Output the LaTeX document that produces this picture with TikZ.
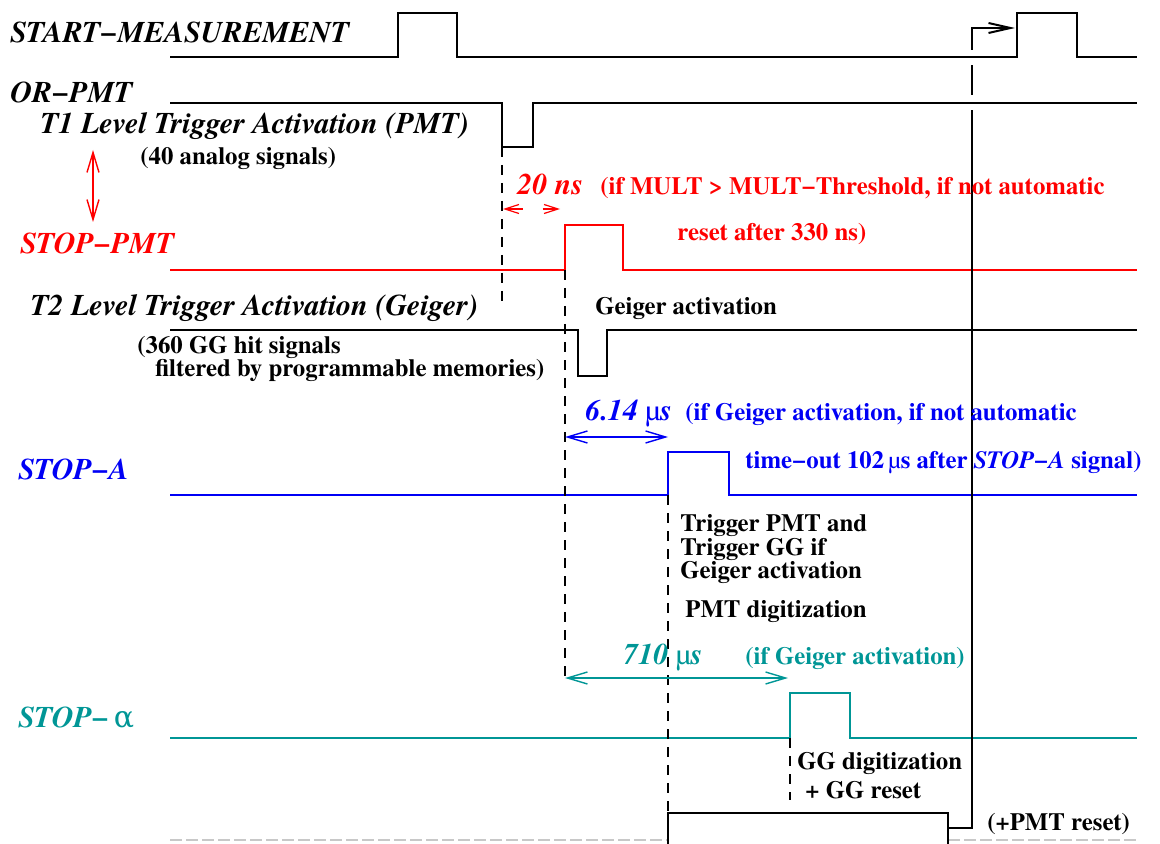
\documentclass[tikz,border=0pt]{standalone}
\usepackage{fontspec}
\setmainfont{texgyretermes}[Extension=.otf, UprightFont=*-regular, BoldFont=*-bold, ItalicFont=*-italic, BoldItalicFont=*-bolditalic]
\newfontfamily\greekf{DejaVu Serif}
\usetikzlibrary{arrows.meta}
\definecolor{sred}{RGB}{255,0,0}
\definecolor{sblue}{RGB}{0,0,245}
\definecolor{steal}{RGB}{0,150,150}
\definecolor{lgray}{RGB}{200,200,200}
\newcommand\muu{{\mdseries\upshape µ}}
\begin{document}
\begin{tikzpicture}[x=0.5pt,y=-0.5pt,
  sig/.style={line width=1.45pt, line join=miter},
  guide/.style={line width=0.6pt, dash pattern=on 5pt off 4pt},
  lab/.style={anchor=west, inner sep=0pt, text height=9.9pt, text depth=0pt, font=\fontsize{15}{18}\selectfont\bfseries\itshape},
  txt/.style={anchor=west, inner sep=0pt, text height=8.2pt, text depth=0pt, font=\fontsize{12.4}{15}\selectfont\bfseries},
  dimarrow/.style={line width=0.7pt, {Straight Barb[length=10pt,width=6pt]}-{Straight Barb[length=10pt,width=6pt]}},
]
\useasboundingbox (0,0) rectangle (1160,844);

% ---- signal traces ----
\draw[sig] (170,57) -- (398,57) -- (398,13) -- (457,13) -- (457,57) -- (1017,57) -- (1017,13) -- (1077,13) -- (1077,57) -- (1137,57);
\draw[sig] (170,103) -- (502,103) -- (502,147) -- (533,147) -- (533,103) -- (1137,103);
\draw[sig,sred] (170,270) -- (565,270) -- (565,225) -- (623,225) -- (623,270) -- (1137,270);
\draw[sig] (170,330) -- (578,330) -- (578,376) -- (607,376) -- (607,330) -- (1137,330);
\draw[sig,sblue] (170,495) -- (668,495) -- (668,452) -- (729,452) -- (729,495) -- (1137,495);
\draw[sig,steal] (170,738) -- (790,738) -- (790,693) -- (850,693) -- (850,738) -- (1137,738);
\draw[lgray,line width=0.8pt,dash pattern=on 6pt off 2pt] (170,840) -- (668,840) (948,840) -- (1137,840);
\draw[line width=0.7pt] (668,844) -- (668,813) -- (948,813) -- (948,844);

% ---- guide lines ----
\draw[guide] (502,147) -- (502,303);
\draw[guide] (565,270) -- (565,680);
\draw[guide] (668,495) -- (668,813);
\draw[guide] (790,738) -- (790,800);

% ---- reset connector ----
\coordinate (rs0) at (948,828);
\coordinate (rs1) at (972,828);
\coordinate (rs2) at (972,28);
\coordinate (rs3) at (1015,28);
\draw[line width=1pt] (rs0) -- (rs1) -- (972,110);
\draw[line width=1pt] (972,95) -- (972,65);
\draw[line width=1pt, -{Straight Barb[length=11pt,width=5pt]}] (972,50) -- (rs2) -- (rs3);

% ---- dimension arrows ----
\coordinate (v1) at (93,150); \coordinate (v2) at (93,222);
\draw[dimarrow,sred] (v1) -- (v2);
\coordinate (n1) at (503,209); \coordinate (n2) at (560,209);
\draw[sred,line width=0.6pt,dash pattern=on 8.5pt off 10pt,{Straight Barb[length=7pt,width=4.5pt]}-{Straight Barb[length=7pt,width=4.5pt]}] (n1) -- (n2);
\coordinate (a1) at (565,437); \coordinate (a2) at (668,437);
\draw[dimarrow,sblue] (a1) -- (a2);
\coordinate (b1) at (565,678); \coordinate (b2) at (788,678);
\draw[dimarrow,steal] (b1) -- (b2);

% ---- labels ----
\node[lab] (lstart) at (10,33) {START−MEASUREMENT};
\node[lab] (lor) at (10,93) {OR−PMT};
\node[lab] (lt1) at (40,124) {T1 Level Trigger Activation (PMT)};
\node[txt] (l40) at (140,156) {(40 analog signals)};
\node[lab,sred] (lstoppmt) at (20,244) {STOP−PMT};
\node[lab,sred] (l20) at (517,185) {20 ns};
\node[txt,sred] (lmult) at (600,186) {(if MULT > MULT−Threshold, if not automatic};
\node[txt,sred] (lreset) at (677,232) {reset after 330 ns)};
\node[lab] (lt2) at (30,306) {T2 Level Trigger Activation (Geiger)};
\node[txt] (lgeig) at (595,306) {Geiger activation};
\node[txt] (l360) at (137,345) {(360 GG hit signals};
\node[txt] (lfilt) at (155,368) {filtered by programmable memories)};
\node[lab,sblue] (lstopa) at (18,470) {STOP−A};
\node[lab,sblue] (l614) at (585,411) {6.14 \muu s};
\node[txt,sblue] (lifg) at (685,412) {(if Geiger activation, if not automatic};
\node[txt,sblue] (ltime) at (745,460) {time−out 102\,\muu s after \textit{STOP−A} signal)};
\node[txt] (ltr1) at (680,523) {Trigger PMT and};
\node[txt] (ltr2) at (680,547) {Trigger GG if};
\node[txt] (ltr3) at (680,570) {Geiger activation};
\node[txt] (lpmtd) at (685,609) {PMT digitization};
\node[lab,steal] (l710) at (623,655) {710 \muu s};
\node[txt,steal] (lifg2) at (745,656) {(if Geiger activation)};
\node[lab,steal] (lstopal) at (18,718) {STOP−\,{\greekf\mdseries\upshape α}};
\node[txt] (lggd) at (797,761) {GG digitization};
\node[txt] (lggr) at (805,790) {+ GG reset};
\node[txt] (lpmtr) at (987,822) {(+PMT reset)};
\end{tikzpicture}
\end{document}
